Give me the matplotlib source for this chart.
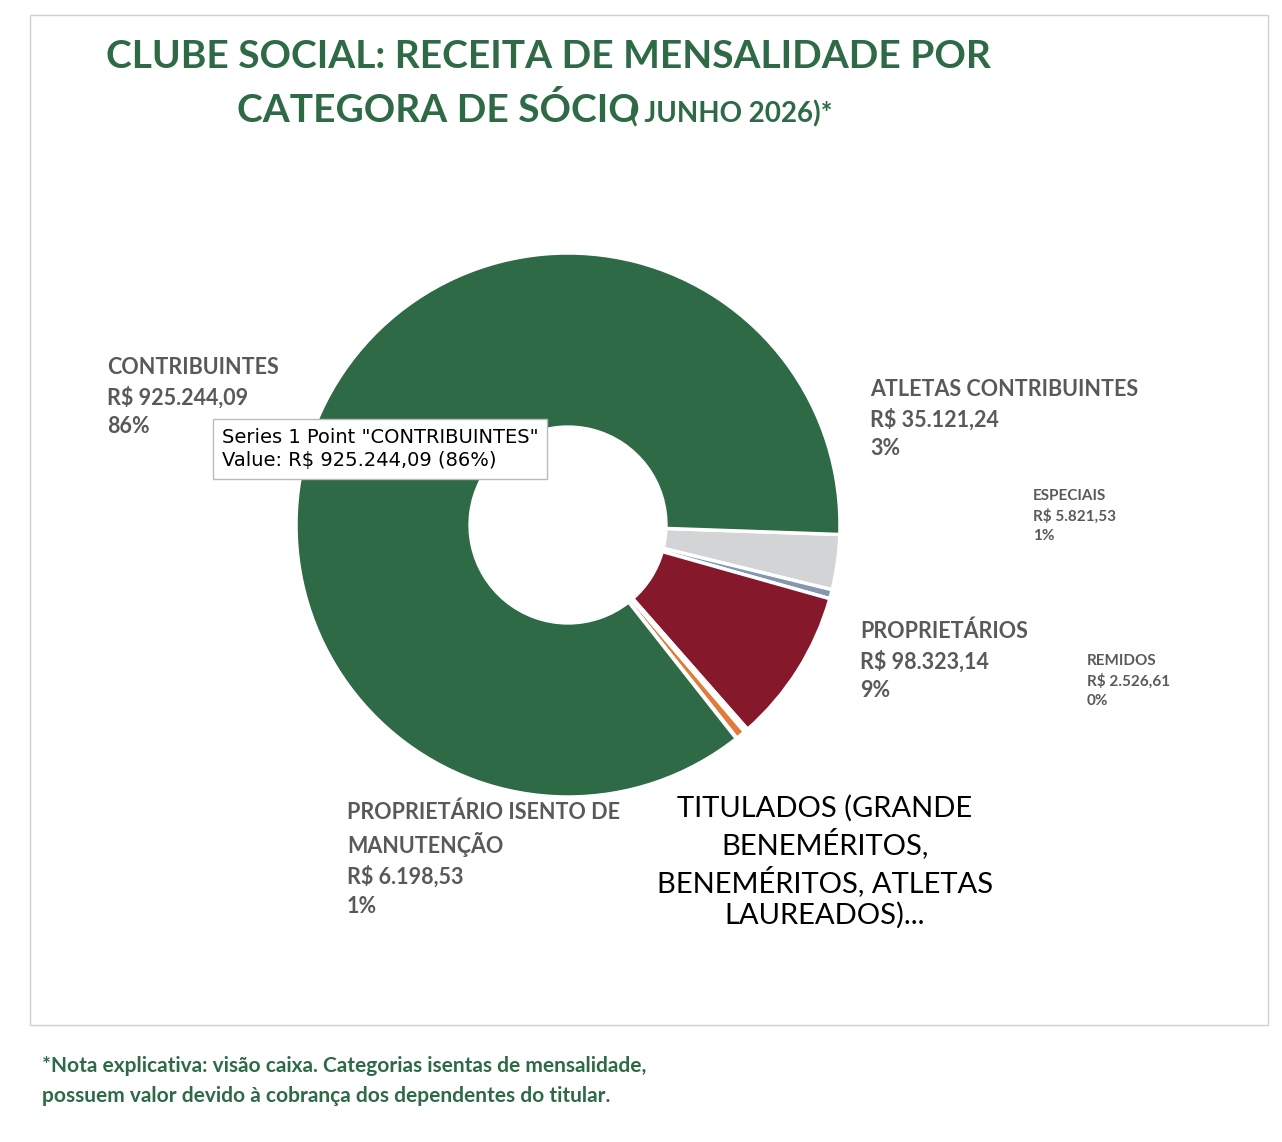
import matplotlib.pyplot as plt
from matplotlib.patches import Rectangle

W, H = 1282, 1142
plt.rcParams['font.family'] = ['Lato', 'DejaVu Sans']

categories = ['ATLETAS CONTRIBUINTES', 'ESPECIAIS', 'PROPRIETÁRIOS', 'REMIDOS',
              'PROPRIETÁRIO ISENTO DE MANUTENÇÃO', 'TITULADOS', 'CONTRIBUINTES']
values = [35121.24, 5821.53, 98323.14, 2526.61, 6198.53, 400.0, 925244.09]
colors = ['#D3D4D6', '#8497B0', '#85182A', '#FFFFFF', '#E07B39', '#F2F2F2', '#2D6A45']

fig = plt.figure(figsize=(W / 100, H / 100), dpi=100)


def px(x, y):
    return x / W, 1 - y / H


# chart frame
bg = fig.add_axes([0, 0, 1, 1])
bg.set_xlim(0, W)
bg.set_ylim(H, 0)
bg.axis('off')
bg.add_patch(Rectangle((30, 15), 1238, 1010, fill=False, ec='#D0D0D0', lw=1))

# donut
cx, cy, r = 568, 525, 272
ax = fig.add_axes([(cx - r) / W, (H - cy - r) / H, 2 * r / W, 2 * r / H])
ax.pie(values, colors=colors, startangle=-2, counterclock=False, radius=1,
       wedgeprops=dict(width=0.64, edgecolor='white', linewidth=2.5))
ax.set_xlim(-1, 1)
ax.set_ylim(-1, 1)
ax.set_aspect('auto')

green = '#2D6A45'
grey = '#595959'
fig.text(*px(548, 57), 'CLUBE SOCIAL: RECEITA DE MENSALIDADE POR', color=green,
         fontsize=28, fontweight='bold', ha='center', va='center')
fig.text(*px(237, 110), 'CATEGORA DE SÓCIO', color=green, fontsize=28,
         fontweight='bold', ha='left', va='center')
fig.text(*px(630, 114), '( JUNHO 2026)*', color=green, fontsize=20,
         fontweight='bold', ha='left', va='center')

big = [('CONTRIBUINTES\nR$ 925.244,09\n86%', 107, 397),
       ('ATLETAS CONTRIBUINTES\nR$ 35.121,24\n3%', 870, 419),
       ('PROPRIETÁRIOS\nR$ 98.323,14\n9%', 860, 661),
       ('PROPRIETÁRIO ISENTO DE\nMANUTENÇÃO\nR$ 6.198,53\n1%', 347, 859)]
for t, x, y in big:
    fig.text(*px(x, y), t, color=grey, fontsize=15.5, fontweight='bold',
             ha='left', va='center', linespacing=1.45)

small = [('ESPECIAIS\nR$ 5.821,53\n1%', 1033, 516),
         ('REMIDOS\nR$ 2.526,61\n0%', 1087, 681)]
for t, x, y in small:
    fig.text(*px(x, y), t, color=grey, fontsize=11, fontweight='bold',
             ha='left', va='center', linespacing=1.45)

fig.text(*px(825, 862), 'TITULADOS (GRANDE\nBENEMÉRITOS,\nBENEMÉRITOS, ATLETAS\nLAUREADOS)...',
         color='black', fontsize=21, ha='center', va='center', linespacing=1.25)

fig.text(*px(222, 449), 'Series 1 Point "CONTRIBUINTES"\nValue: R$ 925.244,09 (86%)',
         family=['DejaVu Sans'], fontsize=14, ha='left', va='center', linespacing=1.3,
         bbox=dict(boxstyle='square,pad=0.45', fc='white', ec='#BBBBBB', lw=1))

fig.text(*px(42, 1081), '*Nota explicativa: visão caixa. Categorias isentas de mensalidade,\n'
         'possuem valor devido à cobrança dos dependentes do titular.',
         color=green, fontsize=15, fontweight='bold', ha='left', va='center',
         linespacing=1.6)

fig.savefig('out.png', dpi=100, facecolor='white')
